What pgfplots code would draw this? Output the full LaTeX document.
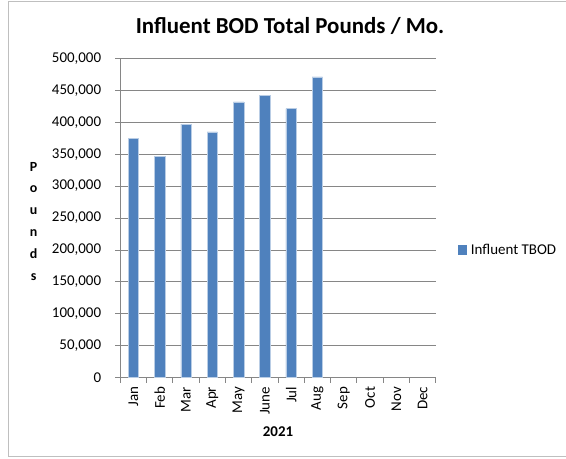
\documentclass[border=0pt]{standalone}
\usepackage{fontspec}
\setmainfont{Carlito}
\usepackage{pgfplots}
\pgfplotsset{compat=1.18}
\definecolor{barblue}{HTML}{4F81BD}
\definecolor{baredge}{HTML}{B9CDE5}
\definecolor{gridgray}{HTML}{868686}
\definecolor{framegray}{HTML}{BFBFBF}
\begin{document}
\begin{tikzpicture}
\useasboundingbox (-120.3bp,-81.3bp) rectangle (445.7bp,377.7bp);
\draw[framegray, line width=0.9bp] (446bp,376bp) -- (-111.7bp,376bp) -- (-111.7bp,-78.5bp) -- (446bp,-78.5bp);
\begin{axis}[
  scale only axis, width=315.4bp, height=319.4bp,
  xmin=0.5, xmax=12.5, ymin=0, ymax=500000,
  axis x line=bottom, axis y line=left,
  axis line style={draw=gridgray, line width=0.8bp, -},
  ymajorgrids, grid style={draw=gridgray, line width=0.8bp},
  tick align=outside, major tick length=5bp,
  tick style={draw=gridgray, line width=0.8bp},
  ytick={0,50000,...,500000},
  scaled y ticks=false,
  /pgf/number format/.cd, 1000 sep={,}, fixed, assume math mode=true, /pgfplots/.cd,
  yticklabel style={font=\fontsize{15}{18}\selectfont, inner xsep=14bp, text=black},
  xtick={0.5,1.5,...,12.5}, xticklabels={,,,,,,,,,,,,},
  extra x ticks={1,2,...,12},
  extra x tick labels={Jan,Feb,Mar,Apr,May,June,Jul,Aug,Sep,Oct,Nov,Dec},
  extra x tick style={major tick length=0pt, tick style={draw=none}, grid=none},
  xticklabel style={font=\fontsize{15}{18}\selectfont, rotate=90, anchor=east, inner xsep=9bp, inner ysep=0pt, text=black},
  legend style={at={(axis description cs:0,0)}, anchor=west, xshift=337bp, yshift=128bp,
    draw=none, fill=none, inner sep=0pt, font=\fontsize{15}{18}\selectfont,
    nodes={inner sep=0pt},
    /tikz/every odd column/.style={column sep=4.5bp}},
  legend image code/.code={\fill[barblue] (0bp,-4.2bp) rectangle (8.4bp,4.2bp);},
]
\addplot[ybar, bar width=10.4bp, bar shift=0pt, fill=barblue, draw=baredge, line width=0.5bp]
  coordinates {(1,374300) (2,346700) (3,396800) (4,384800) (5,431700) (6,441600) (7,421300) (8,470800)};
\addlegendentry{Influent TBOD}
\end{axis}
\node[anchor=base, font=\bfseries\fontsize{23}{27}\selectfont] at (169.7bp,343.7bp) {Influent BOD Total Pounds / Mo.};
\node[anchor=base, font=\bfseries\fontsize{15}{18}\selectfont] at (157.7bp,-58.3bp) {2021};
\node[align=center, inner sep=0pt, font=\bfseries\fontsize{14}{22}\selectfont] at (-86.6bp,156.3bp) {P\\o\\u\\n\\d\\s};
\end{tikzpicture}
\end{document}
